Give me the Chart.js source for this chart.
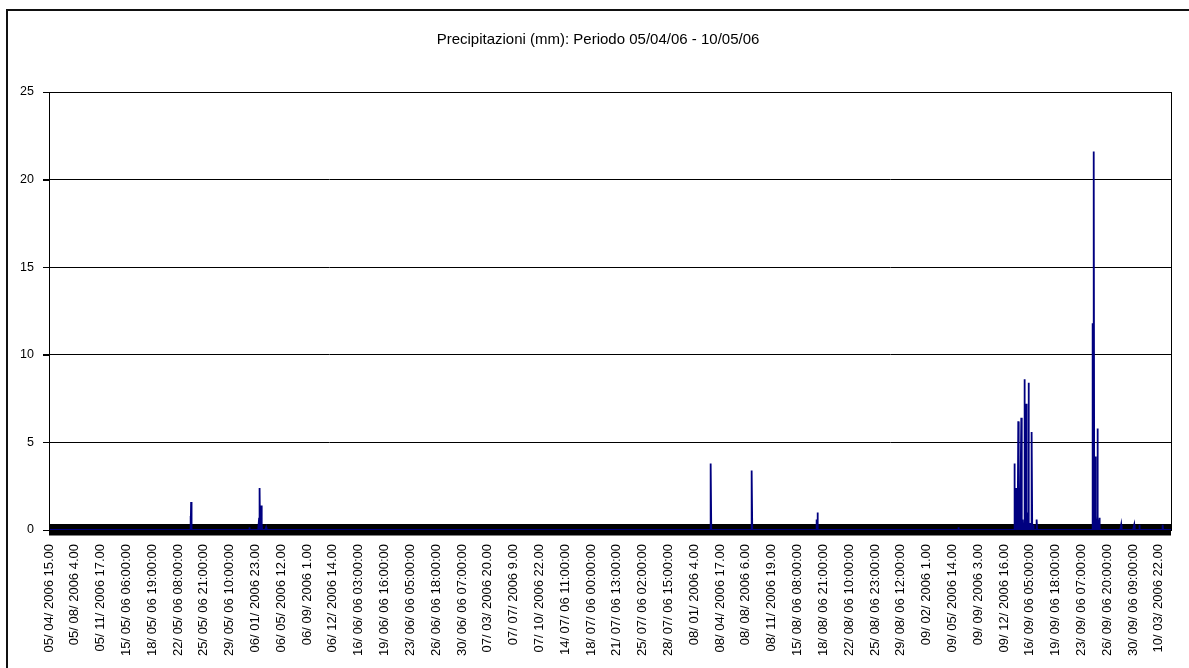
<!DOCTYPE html>
<html>
<head>
<meta charset="utf-8">
<script src="https://cdn.jsdelivr.net/npm/chart.js@4.4.1/dist/chart.umd.min.js"></script>
<style>
    html, body { margin: 0; padding: 0; background: #fff; overflow: hidden; }
    #wrap { position: relative; width: 1189px; height: 668px; }
</style>
</head>
<body>
<div id="wrap"><canvas id="myChart" width="1189" height="668"></canvas></div>
<script>
const chartTitle = 'Precipitazioni (mm): Periodo 05/04/06 - 10/05/06';

// hourly readings, first one is 05/04/2006 15.00
const totalHours = 3696;
const labelStep = 85;

const tickLabels = [
    '05/ 04/ 2006 15.00', '05/ 08/ 2006 4.00', '05/ 11/ 2006 17.00', '15/ 05/ 06 06:00:00',
    '18/ 05/ 06 19:00:00', '22/ 05/ 06 08:00:00', '25/ 05/ 06 21:00:00', '29/ 05/ 06 10:00:00',
    '06/ 01/ 2006 23.00', '06/ 05/ 2006 12.00', '06/ 09/ 2006 1.00', '06/ 12/ 2006 14.00',
    '16/ 06/ 06 03:00:00', '19/ 06/ 06 16:00:00', '23/ 06/ 06 05:00:00', '26/ 06/ 06 18:00:00',
    '30/ 06/ 06 07:00:00', '07/ 03/ 2006 20.00', '07/ 07/ 2006 9.00', '07/ 10/ 2006 22.00',
    '14/ 07/ 06 11:00:00', '18/ 07/ 06 00:00:00', '21/ 07/ 06 13:00:00', '25/ 07/ 06 02:00:00',
    '28/ 07/ 06 15:00:00', '08/ 01/ 2006 4.00', '08/ 04/ 2006 17.00', '08/ 08/ 2006 6.00',
    '08/ 11/ 2006 19.00', '15/ 08/ 06 08:00:00', '18/ 08/ 06 21:00:00', '22/ 08/ 06 10:00:00',
    '25/ 08/ 06 23:00:00', '29/ 08/ 06 12:00:00', '09/ 02/ 2006 1.00', '09/ 05/ 2006 14.00',
    '09/ 09/ 2006 3.00', '09/ 12/ 2006 16.00', '16/ 09/ 06 05:00:00', '19/ 09/ 06 18:00:00',
    '23/ 09/ 06 07:00:00', '26/ 09/ 06 20:00:00', '30/ 09/ 06 09:00:00', '10/ 03/ 2006 22.00'
];

// hours with rain (index from the first reading) and mm in that hour; every other hour is 0
const rainHours = [
    466, 468, 469, 660, 692, 694, 699, 701, 715,
    2180, 2315, 2529, 2531, 2995,
    3180, 3185, 3188, 3192, 3196, 3202, 3207, 3213, 3218, 3222, 3226, 3231, 3237, 3242, 3253,
    3436, 3437, 3439, 3441, 3442, 3446, 3448, 3453, 3455, 3459,
    3531, 3574, 3591, 3668
];
const rainMm = [
    0.8, 1.6, 0.2, 0.15, 0.7, 2.4, 1.4, 0.3, 0.15,
    3.8, 3.4, 0.6, 1.0, 0.15,
    3.8, 2.4, 0.5, 6.2, 0.8, 6.4, 0.6, 8.6, 7.2, 1.0, 8.4, 0.4, 5.6, 0.3, 0.6,
    11.8, 2.0, 1.5, 21.6, 3.0, 4.2, 0.8, 5.8, 0.6, 0.7,
    0.3, 0.3, 0.3, 0.3
];

const yMax = 25;
const yStep = 5;

const rain = new Array(totalHours).fill(0);
rainHours.forEach((h, i) => { rain[h] = rainMm[i]; });
const points = rain.map((v, h) => ({ x: h, y: v }));

Chart.defaults.font.family = "'Liberation Sans', Arial, sans-serif";
Chart.defaults.color = '#000';

// outer frame, the dense tick band on the x axis, y tick marks and the plot border
const excelFrame = {
    id: 'excelFrame',
    beforeDraw(chart) {
        const c = chart.ctx;
        c.save();
        c.strokeStyle = '#111';
        c.lineWidth = 2;
        c.strokeRect(7, 10, 1400, 900);
        c.restore();
    },
    beforeDatasetsDraw(chart) {
        const c = chart.ctx;
        const a = chart.chartArea;
        const yScale = chart.scales.y;
        const y0 = yScale.getPixelForValue(0);
        c.save();
        c.fillStyle = '#000';
        c.fillRect(a.left, y0 - 6, a.right - a.left, 11.5);
        c.strokeStyle = '#000';
        c.lineWidth = 1;
        c.beginPath();
        yScale.ticks.forEach((t) => {
            const py = Math.round(yScale.getPixelForValue(t.value)) + 0.5;
            c.moveTo(a.left - 6, py);
            c.lineTo(a.left, py);
        });
        c.stroke();
        c.restore();
    },
    afterDatasetsDraw(chart) {
        const c = chart.ctx;
        const a = chart.chartArea;
        c.save();
        c.strokeStyle = '#000';
        c.lineWidth = 1;
        c.strokeRect(a.left + 0.5, a.top + 0.5, a.right - a.left, a.bottom - a.top);
        c.restore();
    }
};

const ctx = document.getElementById('myChart').getContext('2d');

const chart = new Chart(ctx, {
    type: 'line',
    data: {
        datasets: [
            {
                data: points,
                borderColor: '#000080',
                borderWidth: 1.8,
                pointRadius: 0,
                tension: 0,
                fill: false
            }
        ]
    },
    options: {
        responsive: false,
        animation: false,
        layout: {
            padding: { left: 7, right: 0, top: 0, bottom: 0 }
        },
        scales: {
            x: {
                type: 'linear',
                min: 0,
                max: totalHours - 1,
                grid: { display: false },
                border: { display: false },
                afterBuildTicks: (scale) => {
                    scale.ticks = tickLabels.map((_, i) => ({ value: i * labelStep }));
                },
                afterFit: (scale) => {
                    scale.height = 138;
                },
                ticks: {
                    autoSkip: false,
                    maxRotation: 90,
                    minRotation: 90,
                    padding: 6,
                    font: { size: 13 },
                    callback: (v) => tickLabels[Math.round(v / labelStep)]
                }
            },
            y: {
                min: 0,
                max: yMax,
                grid: {
                    color: '#000',
                    lineWidth: 1,
                    tickLength: 6
                },
                border: { display: false },
                afterFit: (scale) => {
                    scale.width = 42;
                },
                ticks: {
                    stepSize: yStep,
                    padding: 9,
                    font: { size: 12.5 }
                }
            },
            // empty strip on the right side of the plot
            yRight: {
                position: 'right',
                min: 0,
                max: yMax,
                grid: { display: false },
                border: { display: false },
                ticks: { display: false },
                afterFit: (scale) => {
                    scale.width = 18;
                }
            }
        },
        plugins: {
            legend: { display: false },
            tooltip: { enabled: false },
            title: {
                display: true,
                text: chartTitle,
                color: '#000',
                font: { size: 15, weight: 'normal' },
                padding: { top: 31, bottom: 43 }
            }
        }
    },
    plugins: [excelFrame]
});
</script>
</body>
</html>
